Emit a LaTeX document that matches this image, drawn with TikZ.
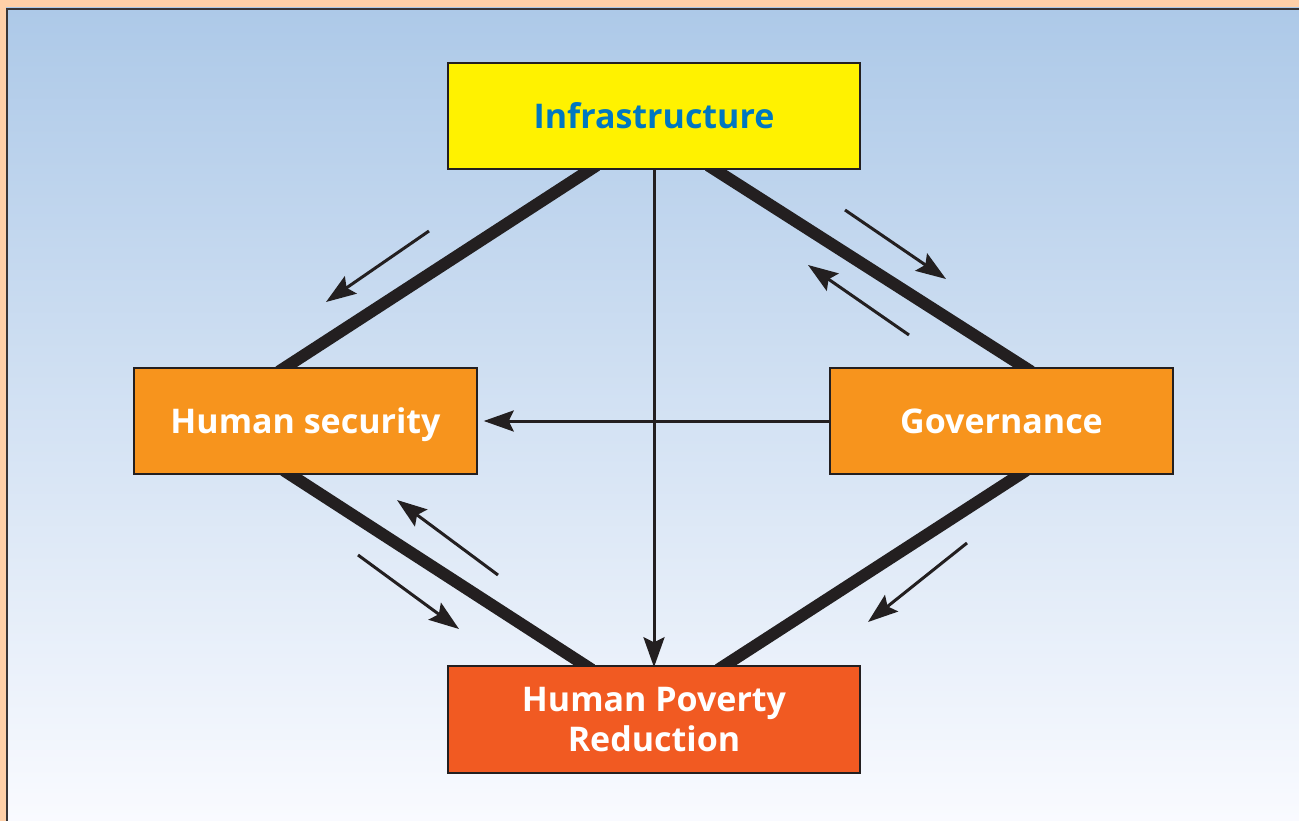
\documentclass[tikz,border=0pt]{standalone}
\usepackage{fontspec}
\setmainfont{Open Sans}
\usetikzlibrary{arrows.meta}
\pgfdeclarelayer{bg}
\pgfdeclarelayer{links}
\pgfsetlayers{bg,links,main}
\definecolor{peach}{HTML}{FFD0A8}
\definecolor{bgtop}{HTML}{ADC9E8}
\definecolor{bgbot}{HTML}{FAFBFF}
\definecolor{infray}{HTML}{FFF200}
\definecolor{infrab}{HTML}{0077C0}
\definecolor{orng}{HTML}{F7941D}
\definecolor{redor}{HTML}{F15A22}
\definecolor{ink}{HTML}{231F20}
\tikzset{
  box/.style={draw=ink, line width=1.5pt, inner sep=0pt, font=\bfseries\fontsize{34}{40}\selectfont, align=center},
  thick link/.style={draw=ink, line width=12pt, shorten <=-8pt, shorten >=-8pt},
  flow/.style={draw=ink, line width=3pt, -{Stealth[length=30pt,width=21pt,inset=5pt]}},
}
\begin{document}
\begin{tikzpicture}[x=1pt,y=-1pt]
\useasboundingbox (0,0) rectangle (1299,821);
\begin{pgfonlayer}{bg}
\fill[peach] (0,0) rectangle (1299,821);
\shade[top color=bgtop, bottom color=bgbot] (6,8) rectangle (1310,830);
\draw[ink!90, line width=2.5pt] (7,830) -- (7,9) -- (1310,9);
\end{pgfonlayer}
% boxes
\node[box, fill=infray, text=infrab, minimum width=412pt, minimum height=106pt] (inf) at (654,116) {Infrastructure};
\node[box, fill=orng, text=white, minimum width=343pt, minimum height=106pt, text depth=0pt] (hs) at (305.5,421) {Human security};
\node[box, fill=orng, text=white, minimum width=343pt, minimum height=106pt] (gov) at (1001.5,421) {Governance};
\node[box, fill=redor, text=white, minimum width=412pt, minimum height=107pt] (hpr) at (654,719.5) {Human Poverty\\Reduction};
% thick links
\begin{pgfonlayer}{links}
\draw[thick link] ([xshift=-64pt]inf.south) -- ([xshift=-20pt]hs.north);
\draw[thick link] ([xshift=61pt]inf.south) -- ([xshift=23pt]gov.north);
\draw[thick link] ([xshift=-15pt]hs.south) -- ([xshift=-69pt]hpr.north);
\draw[thick link] ([xshift=18pt]gov.south) -- ([xshift=71pt]hpr.north);
\end{pgfonlayer}
% direct arrows
\draw[flow] (inf.south) -- ([yshift=-2pt]hpr.north);
\draw[flow] (gov.west) -- ([xshift=6pt]hs.east);
% small arrows
\coordinate (a1s) at (429,231); \coordinate (a1e) at (326,302);
\coordinate (a2s) at (845,210); \coordinate (a2e) at (946,279);
\coordinate (a3s) at (909,335); \coordinate (a3e) at (808,265);
\coordinate (a4s) at (498,575); \coordinate (a4e) at (397,500);
\coordinate (a5s) at (358,555); \coordinate (a5e) at (459,629);
\coordinate (a6s) at (967,543); \coordinate (a6e) at (868,622);
\foreach \i in {1,...,6} {\draw[flow] (a\i s) -- (a\i e);}
\end{tikzpicture}
\end{document}
